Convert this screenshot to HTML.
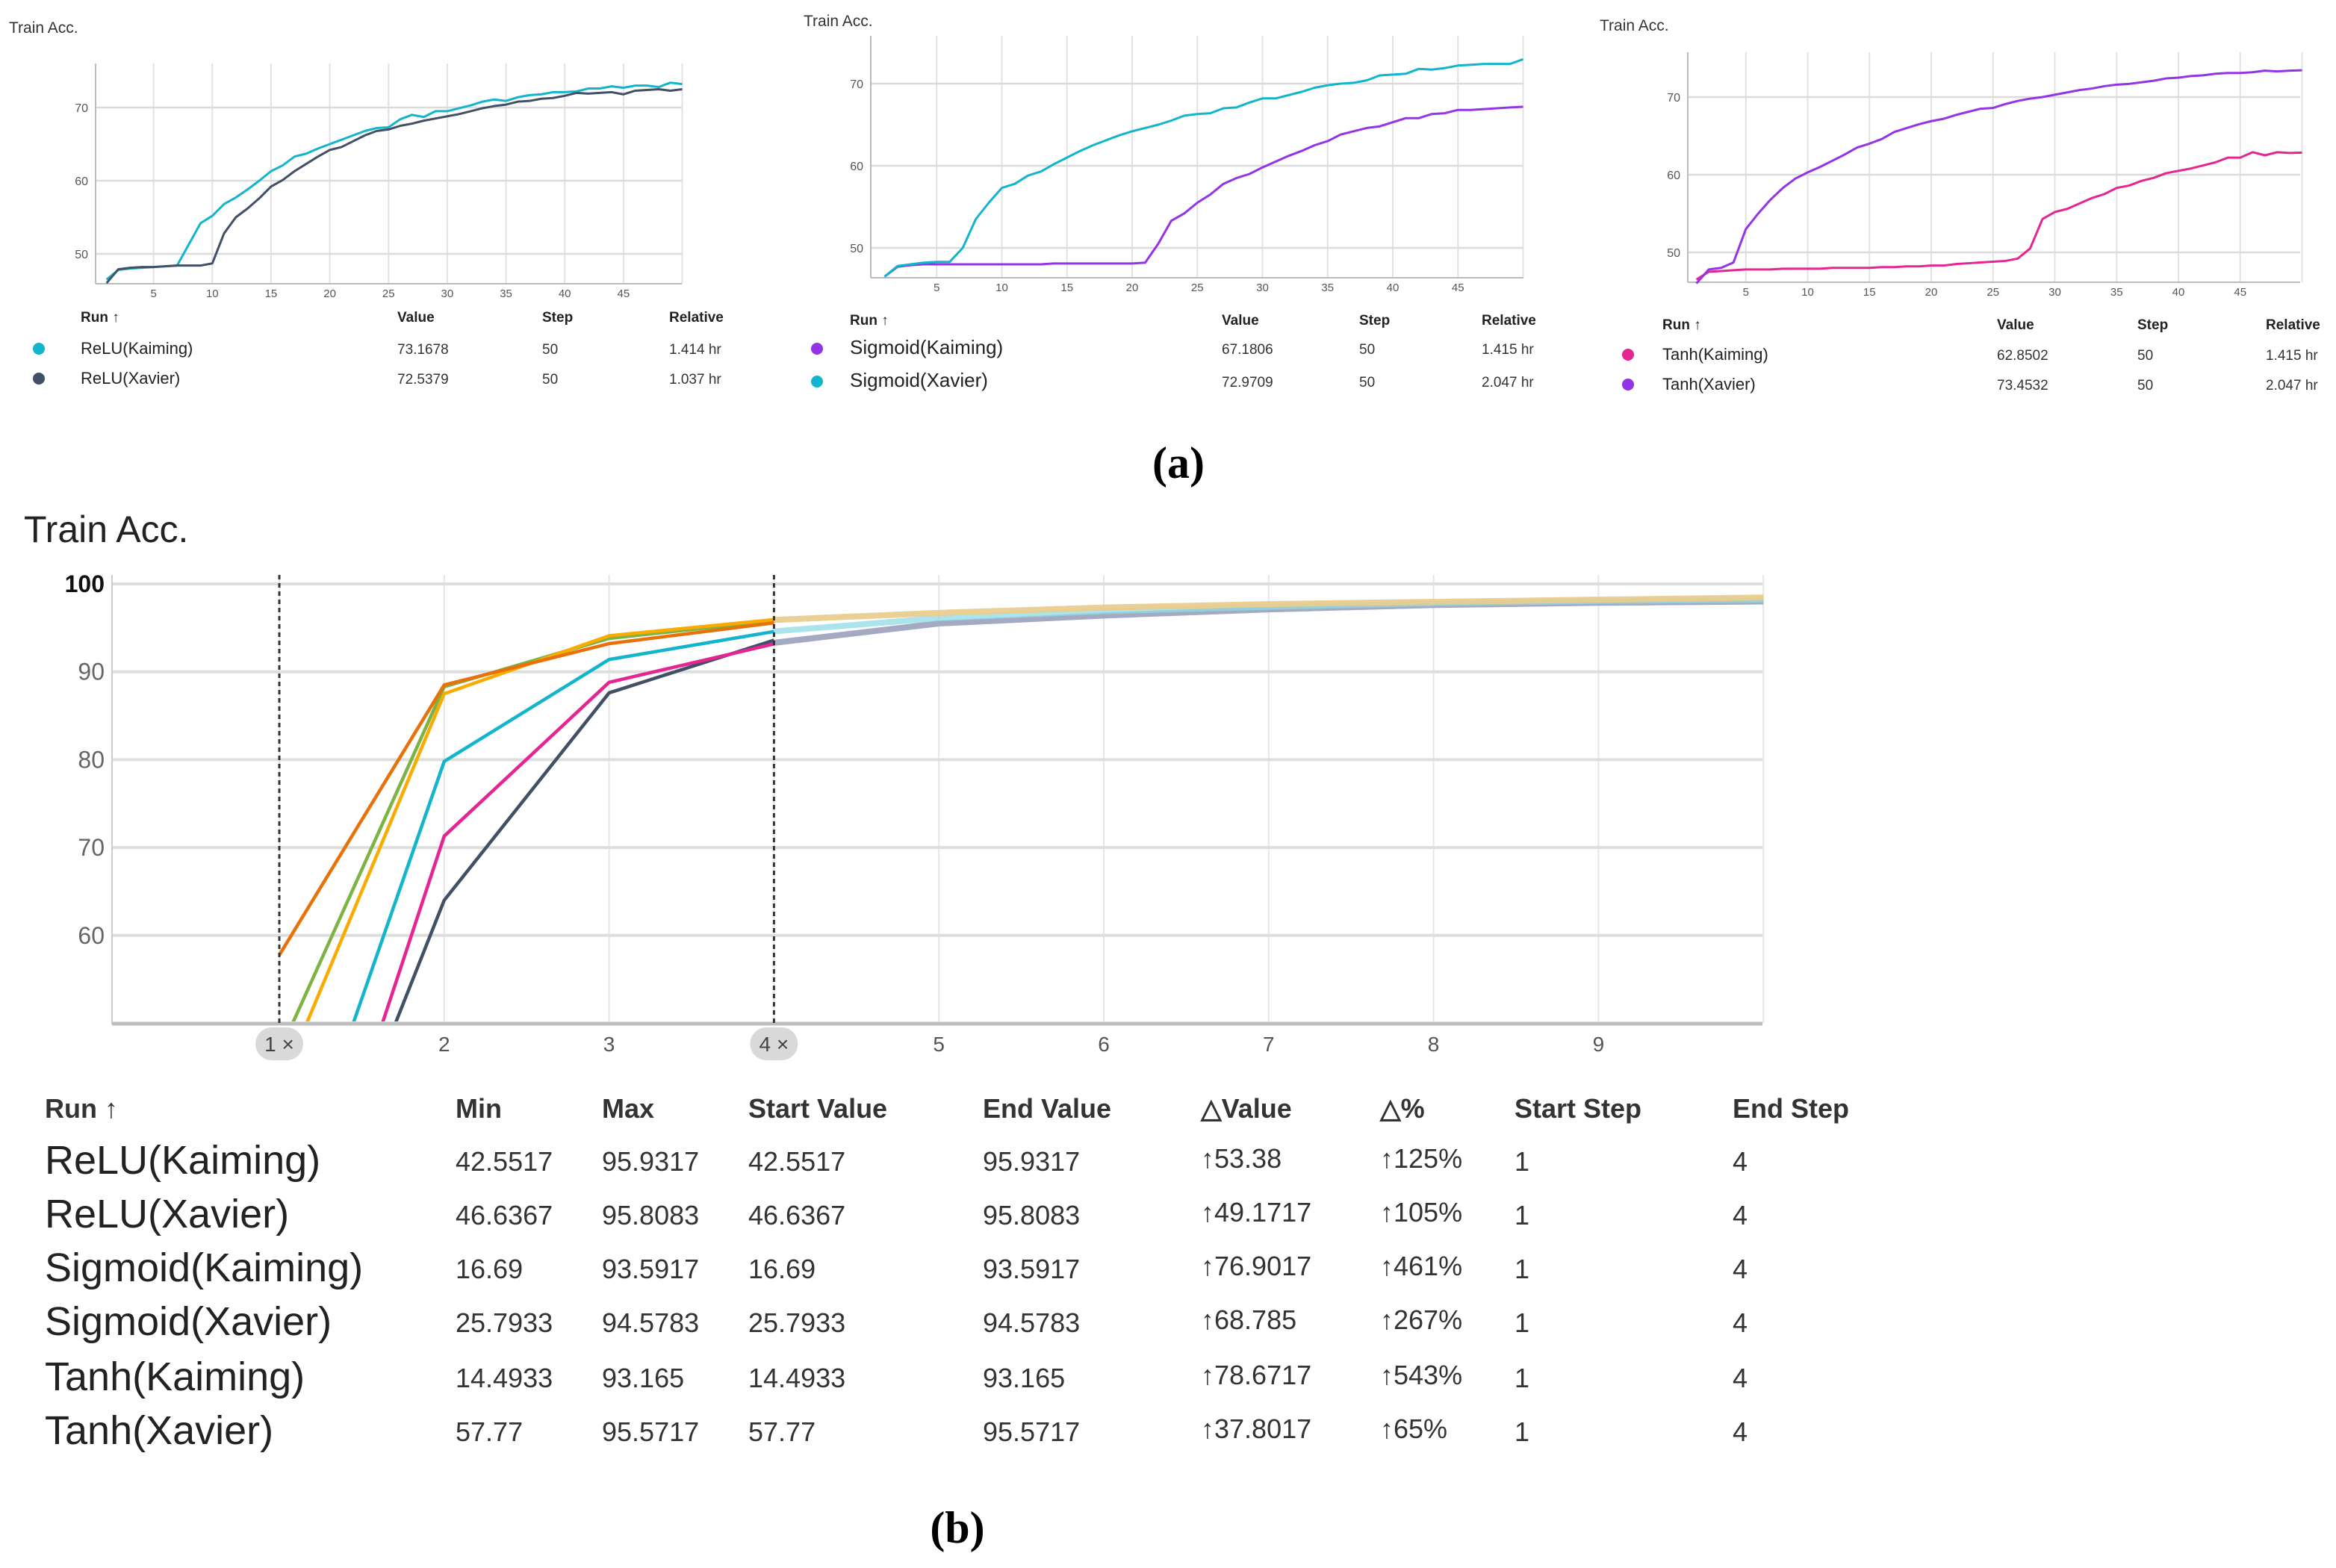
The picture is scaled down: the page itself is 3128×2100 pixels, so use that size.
<!DOCTYPE html>
<html><head><meta charset="utf-8">
<style>
html,body{margin:0;padding:0;background:#fff;}
svg{display:block;font-family:"Liberation Sans",sans-serif;}
</style></head>
<body>
<svg id="fig" width="3128" height="2100" viewBox="0 0 3128 2100" xmlns="http://www.w3.org/2000/svg"></svg>
<script>
// ---- data: panel (a) ----
const stepsA = Array.from({length:50},(_,i)=>i+1);
const reluKaiming = [46.5,47.8,48.0,48.1,48.2,48.3,48.4,51.3,54.2,55.2,56.8,57.7,58.8,60.0,61.3,62.1,63.3,63.7,64.4,65.0,65.6,66.2,66.8,67.2,67.3,68.4,69.0,68.7,69.5,69.5,69.9,70.3,70.8,71.1,70.9,71.4,71.7,71.8,72.1,72.1,72.2,72.6,72.6,72.9,72.7,73.0,73.0,72.8,73.4,73.2];
const reluXavier = [46.0,47.9,48.1,48.2,48.2,48.3,48.4,48.4,48.4,48.7,52.8,55.0,56.2,57.6,59.2,60.1,61.3,62.3,63.3,64.2,64.6,65.4,66.2,66.8,67.0,67.5,67.8,68.2,68.5,68.8,69.1,69.5,69.9,70.2,70.4,70.8,70.9,71.2,71.3,71.6,72.0,71.9,72.0,72.1,71.8,72.3,72.4,72.5,72.3,72.5];
const sigmoidXavier = [46.5,47.8,48.0,48.2,48.3,48.3,50.0,53.5,55.5,57.3,57.8,58.8,59.3,60.2,61.0,61.8,62.5,63.1,63.7,64.2,64.6,65.0,65.5,66.1,66.3,66.4,67.0,67.1,67.7,68.2,68.2,68.6,69.0,69.5,69.8,70.0,70.1,70.4,71.0,71.1,71.2,71.8,71.7,71.9,72.2,72.3,72.4,72.4,72.4,72.97];
const sigmoidKaiming = [46.5,47.7,47.9,48.0,48.0,48.0,48.0,48.0,48.0,48.0,48.0,48.0,48.0,48.1,48.1,48.1,48.1,48.1,48.1,48.1,48.2,50.5,53.3,54.2,55.5,56.5,57.8,58.5,59.0,59.8,60.5,61.2,61.8,62.5,63.0,63.8,64.2,64.6,64.8,65.3,65.8,65.8,66.3,66.4,66.8,66.8,66.9,67.0,67.1,67.18];
const tanhXavier = [46.0,47.8,48.0,48.7,53.0,55.0,56.8,58.3,59.5,60.3,61.0,61.8,62.6,63.5,64.0,64.6,65.5,66.0,66.5,66.9,67.2,67.7,68.1,68.5,68.6,69.1,69.5,69.8,70.0,70.3,70.6,70.9,71.1,71.4,71.6,71.7,71.9,72.1,72.4,72.5,72.7,72.8,73.0,73.1,73.1,73.2,73.4,73.3,73.4,73.45];
const tanhKaiming = [46.5,47.5,47.6,47.7,47.8,47.8,47.8,47.9,47.9,47.9,47.9,48.0,48.0,48.0,48.0,48.1,48.1,48.2,48.2,48.3,48.3,48.5,48.6,48.7,48.8,48.9,49.2,50.5,54.3,55.2,55.6,56.3,57.0,57.5,58.3,58.6,59.2,59.6,60.2,60.5,60.8,61.2,61.6,62.2,62.2,62.9,62.5,62.9,62.8,62.85];
const xTicksA = [5,10,15,20,25,30,35,40,45];
const yTicksA = [50,60,70];

// ---- data: panel (b) ----
const stepsB = [1,2,3,4];
const tailSteps = [4,5,6,7,8,9,10];
const bReluKaiming = [42.55,87.5,94.1,95.93];
const bReluXavier = [46.64,88.3,93.8,95.81];
const bSigmoidKaiming = [16.69,64.0,87.6,93.59];
const bSigmoidXavier = [25.79,79.8,91.4,94.58];
const bTanhKaiming = [14.49,71.3,88.8,93.17];
const bTanhXavier = [57.77,88.5,93.2,95.57];
const tailHigh = [95.9,96.7,97.3,97.7,97.95,98.2,98.45];
const tailMid = [94.6,96.1,96.9,97.4,97.8,98.05,98.2];
const tailLow = [93.3,95.5,96.4,97.1,97.6,97.85,98.0];
const xTicksB = [1,2,3,4,5,6,7,8,9];
const yTicksB = [60,70,80,90,100];
const tableRuns = ["ReLU(Kaiming)","ReLU(Xavier)","Sigmoid(Kaiming)","Sigmoid(Xavier)","Tanh(Kaiming)","Tanh(Xavier)"];
const tableMin = ["42.5517","46.6367","16.69","25.7933","14.4933","57.77"];
const tableMax = ["95.9317","95.8083","93.5917","94.5783","93.165","95.5717"];
const tableDV = ["53.38","49.1717","76.9017","68.785","78.6717","37.8017"];
const tableDP = ["125%","105%","461%","267%","543%","65%"];

const C = {cyan:"#12b5cb",navy:"#425066",purple:"#9334e6",pink:"#e52592",orange:"#e8710a",green:"#7cb342",yellow:"#f9ab00"};
const svg = document.getElementById('fig');
const NS = "http://www.w3.org/2000/svg";
function mk(tag, attrs, parent){
  const e = document.createElementNS(NS, tag);
  for (const k in attrs) e.setAttribute(k, attrs[k]);
  (parent||svg).appendChild(e);
  return e;
}
function txt(str, x, y, size, opts, parent){
  const e = mk('text', Object.assign({x:x,y:y,'font-size':size,fill:'#222'}, opts||{}), parent);
  e.textContent = str;
  return e;
}

// ---------- small panels ----------
function panel(cfg){
  const g = mk('g', {});
  
  
  const sx = s => cfg.x0 + s*cfg.dx;
  const sy = v => cfg.y70 + (70 - v)*cfg.dy;
  const t = txt('Train Acc.', cfg.titleX, cfg.titleY, 21, {fill:'#333'}, g);
  
  
  for (const s of xTicksA.concat([50])) {
    mk('line', {x1:sx(s),x2:sx(s),y1:cfg.top,y2:cfg.bottom,stroke:'#e2e2e2','stroke-width':2}, g);
  }
  for (const v of yTicksA) {
    mk('line', {x1:cfg.axisX,x2:cfg.right,y1:sy(v),y2:sy(v),stroke:'#dcdcdc','stroke-width':2.5}, g);
    const l = txt(String(v), cfg.axisX-10, sy(v)+6, 16, {'text-anchor':'end',fill:'#555'}, g);
    
    
  }
  mk('line', {x1:cfg.axisX,x2:cfg.axisX,y1:cfg.top,y2:cfg.bottom,stroke:'#bbb','stroke-width':2}, g);
  mk('line', {x1:cfg.axisX,x2:cfg.right,y1:cfg.bottom,y2:cfg.bottom,stroke:'#bbb','stroke-width':2}, g);
  for (const s of xTicksA) {
    const l = txt(String(s), sx(s), cfg.bottom+18, 15, {'text-anchor':'middle',fill:'#555'}, g);
    
    
  }
  cfg.series.forEach((se, i) => {
    const p = mk('polyline', {points: stepsA.map((s,j)=>sx(s)+','+sy(se.data[j])).join(' '), fill:'none', stroke:se.color, 'stroke-width':3, 'stroke-linejoin':'round'}, g);
    
    
  });
  const c = cfg.cols;
  [['Run ↑',c.name],['Value',c.value],['Step',c.step],['Relative',c.rel]].forEach(([h,x])=>{
    const e = txt(h, x, cfg.headY, 19, {'font-weight':'bold',fill:'#222'}, g);
    
    
  });
  cfg.series.forEach((se, i) => {
    const y = cfg.rowY[i];
    const d = mk('circle', {cx:c.dot, cy:y-7, r:8, fill:se.color}, g);
    
    
    const n = txt(se.label, c.name, y, cfg.nameSize, {fill:'#222'}, g);
    
    
    txt(se.value, c.value, y, 19, {fill:'#333'}, g);
    txt('50', c.step, y, 19, {fill:'#333'}, g);
    txt(se.rel, c.rel, y, 19, {fill:'#333'}, g);
  });
}

panel({name:'chart-relu', titleX:12, titleY:44, x0:127, dx:15.73, axisX:128, right:913, top:85, bottom:380, y70:144, dy:9.8,
  headY:431, rowY:[474,514], nameSize:22,
  cols:{dot:52,name:108,value:532,step:726,rel:896},
  series:[{label:'ReLU(Kaiming)',data:reluKaiming,color:C.cyan,value:'73.1678',rel:'1.414 hr'},
          {label:'ReLU(Xavier)',data:reluXavier,color:C.navy,value:'72.5379',rel:'1.037 hr'}]});
panel({name:'chart-sigmoid', titleX:1076, titleY:35, x0:1167, dx:17.45, axisX:1166, right:2040, top:48, bottom:372, y70:112, dy:11,
  headY:435, rowY:[474,518], nameSize:26,
  cols:{dot:1094,name:1138,value:1636,step:1820,rel:1984},
  series:[{label:'Sigmoid(Kaiming)',data:sigmoidKaiming,color:C.purple,value:'67.1806',rel:'1.415 hr'},
          {label:'Sigmoid(Xavier)',data:sigmoidXavier,color:C.cyan,value:'72.9709',rel:'2.047 hr'}]});
panel({name:'chart-tanh', titleX:2142, titleY:41, x0:2255, dx:16.55, axisX:2260, right:3080, top:70, bottom:378, y70:130, dy:10.4,
  headY:441, rowY:[482,522], nameSize:22,
  cols:{dot:2180,name:2226,value:2674,step:2862,rel:3034},
  series:[{label:'Tanh(Kaiming)',data:tanhKaiming,color:C.pink,value:'62.8502',rel:'1.415 hr'},
          {label:'Tanh(Xavier)',data:tanhXavier,color:C.purple,value:'73.4532',rel:'2.047 hr'}]});

let la = txt('(a)', 1578, 640, 60, {'font-family':'"Liberation Serif",serif','font-weight':'bold','text-anchor':'middle',fill:'#000'});



// ---------- panel (b) ----------
const gb = mk('g', {});


const bx = s => 374 + (s-1)*220.8;
const by = v => 782 + (100 - v)*11.77;
const bt = txt('Train Acc.', 32, 726, 50, {fill:'#222'}, gb);


for (const s of xTicksB.concat([10])) mk('line',{x1:bx(s),x2:bx(s),y1:770,y2:1370,stroke:'#e6e6e6','stroke-width':2},gb);
for (const v of yTicksB) {
  mk('line',{x1:150,x2:2360,y1:by(v),y2:by(v),stroke:'#dedede','stroke-width':4},gb);
  const l = txt(String(v), 140, by(v)+11, 32, {'text-anchor':'end',fill:v===100?'#111':'#666','font-weight':v===100?'bold':'normal'}, gb);
  
  
}
mk('line',{x1:150,x2:150,y1:770,y2:1372,stroke:'#ccc','stroke-width':2},gb);
mk('line',{x1:150,x2:2360,y1:1371,y2:1371,stroke:'#bdbdbd','stroke-width':5},gb);
const cp = mk('clipPath',{id:'clipB'},gb);
mk('rect',{x:150,y:760,width:2212,height:608},cp);
const lines = mk('g',{'clip-path':'url(#clipB)'},gb);
[[tailLow,'#b39ddb'],[tailLow,'#9aa5b8'],[tailMid,'#8fdbe6'],[tailHigh,'#b7d7a0'],[tailHigh,'#f6c98a']].forEach(([d,col])=>{
  const p = mk('polyline',{points:tailSteps.map((s,j)=>bx(s)+','+by(d[j])).join(' '),fill:'none',stroke:col,'stroke-width':8,'stroke-opacity':0.75,'stroke-linejoin':'round'},lines);
  
  
});
[[bSigmoidKaiming,C.navy,'sigmoid-kaiming'],[bTanhKaiming,C.pink,'tanh-kaiming'],[bSigmoidXavier,C.cyan,'sigmoid-xavier'],[bReluXavier,C.green,'relu-xavier'],[bReluKaiming,C.yellow,'relu-kaiming'],[bTanhXavier,C.orange,'tanh-xavier']].forEach(([d,col,n])=>{
  const p = mk('polyline',{points:stepsB.map((s,j)=>bx(s)+','+by(d[j])).join(' '),fill:'none',stroke:col,'stroke-width':4.5,'stroke-linejoin':'round'},lines);
  
  
});
for (const s of [1,4]) {
  const d = mk('line',{x1:bx(s),x2:bx(s),y1:770,y2:1370,stroke:'#333','stroke-width':3,'stroke-dasharray':'6,5'},gb);
  
  
}
for (const s of xTicksB) {
  if (s===1 || s===4) {
    const pill = mk('rect',{x:bx(s)-32,y:1376,width:64,height:44,rx:22,fill:'#d9d9d9'},gb);
    
    
    txt(s+' ×', bx(s), 1408, 28, {'text-anchor':'middle',fill:'#444'}, gb);
  } else {
    const l = txt(String(s), bx(s), 1408, 28, {'text-anchor':'middle',fill:'#555'}, gb);
    
    
  }
}
const hdr = [['Run ↑',60],['Min',610],['Max',806],['Start Value',1002],['End Value',1316],['△Value',1608],['△%',1848],['Start Step',2028],['End Step',2320]];
hdr.forEach(([h,x])=>{
  const e = txt(h, x, 1497, 36, {'font-weight':'bold',fill:'#333'}, gb);
  
  
});
const rowYs = [1572,1644,1716,1788,1862,1934];
tableRuns.forEach((r,i)=>{
  const y = rowYs[i];
  const n = txt(r, 60, y, 54, {fill:'#222'}, gb);
  
  
  const yy = y - 4;
  txt(tableMin[i], 610, yy, 36, {fill:'#333'}, gb);
  txt(tableMax[i], 806, yy, 36, {fill:'#333'}, gb);
  txt(tableMin[i], 1002, yy, 36, {fill:'#333'}, gb);
  txt(tableMax[i], 1316, yy, 36, {fill:'#333'}, gb);
  txt('↑'+tableDV[i], 1608, yy-4, 36, {fill:'#333'}, gb);
  txt('↑'+tableDP[i], 1848, yy-4, 36, {fill:'#333'}, gb);
  txt('1', 2028, yy, 36, {fill:'#333'}, gb);
  txt('4', 2320, yy, 36, {fill:'#333'}, gb);
});
let lb = txt('(b)', 1282, 2066, 60, {'font-family':'"Liberation Serif",serif','font-weight':'bold','text-anchor':'middle',fill:'#000'});


</script>
</body></html>
